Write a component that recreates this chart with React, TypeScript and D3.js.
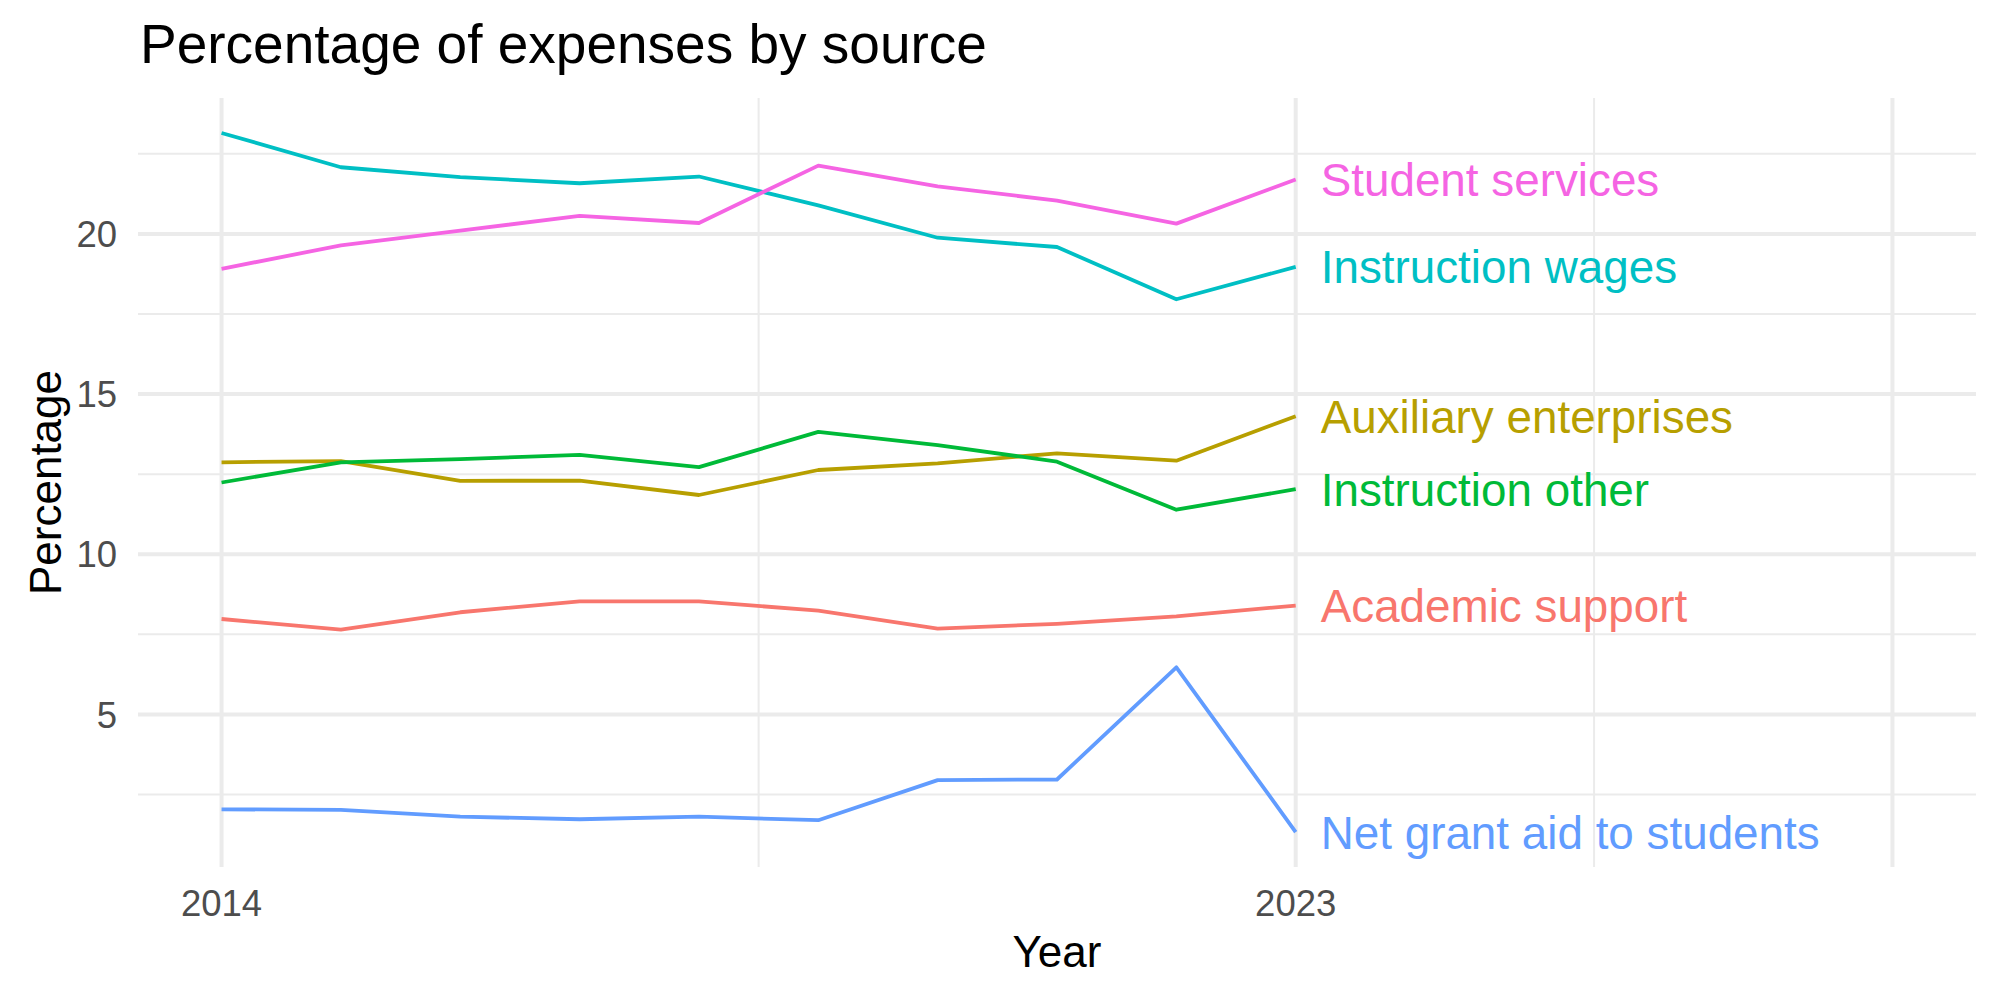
import * as d3 from "d3";

const WIDTH = 2000;
const HEIGHT = 1000;
const PANEL = { left: 138, right: 1976, top: 98, bottom: 867 };

const years = [2014, 2015, 2016, 2017, 2018, 2019, 2020, 2021, 2022, 2023];

const academicSupport = [7.98, 7.65, 8.19, 8.53, 8.53, 8.24, 7.68, 7.83, 8.06, 8.4];
const auxiliaryEnterprises = [12.87, 12.91, 12.29, 12.3, 11.85, 12.63, 12.84, 13.15, 12.92, 14.31];
const instructionOther = [12.24, 12.87, 12.97, 13.1, 12.72, 13.82, 13.41, 12.89, 11.39, 12.03];
const instructionWages = [23.15, 22.08, 21.77, 21.58, 21.79, 20.89, 19.88, 19.59, 17.96, 18.97];
const netGrantAid = [2.04, 2.02, 1.81, 1.73, 1.81, 1.7, 2.95, 2.97, 6.47, 1.33];
const studentServices = [18.91, 19.64, 20.1, 20.56, 20.34, 22.13, 21.48, 21.04, 20.32, 21.7];

const seriesNames = [
  "Academic support",
  "Auxiliary enterprises",
  "Instruction other",
  "Instruction wages",
  "Net grant aid to students",
  "Student services",
];
const seriesValues = [
  academicSupport,
  auxiliaryEnterprises,
  instructionOther,
  instructionWages,
  netGrantAid,
  studentServices,
];
const colors = ["#F8766D", "#B79F00", "#00BA38", "#00BFC4", "#619CFF", "#F564E3"];

const xMajor = [2014, 2023, 2028];
const xLabels = ["2014", "2023", ""];
const xMinor = [2018.5, 2025.5];
const yMajor = [5, 10, 15, 20];
const yMinor = [2.5, 7.5, 12.5, 17.5, 22.5];

const FONT = "'Liberation Sans', Arial, Helvetica, sans-serif";
const GRID = "#EBEBEB";

export default function App() {
  // x runs to 2028 to leave room for the end labels, ggplot-style 5% padding
  const xDomain = [2014, 2028];
  const xPad = (xDomain[1] - xDomain[0]) * 0.05;
  const xScale = d3
    .scaleLinear()
    .domain([xDomain[0] - xPad, xDomain[1] + xPad])
    .range([PANEL.left, PANEL.right]);

  const allValues = seriesValues.flat();
  const yMin = d3.min(allValues) as number;
  const yMax = d3.max(allValues) as number;
  const yPad = (yMax - yMin) * 0.05;
  const yScale = d3
    .scaleLinear()
    .domain([yMin - yPad, yMax + yPad])
    .range([PANEL.bottom, PANEL.top]);

  const line = d3
    .line<number>()
    .x((_, i) => xScale(years[i]))
    .y((d) => yScale(d));

  const lastYear = years[years.length - 1];

  return (
    <svg
      width={WIDTH}
      height={HEIGHT}
      style={{ position: "absolute", left: 0, top: 0, background: "#fff" }}
      fontFamily={FONT}
    >
      {/* minor grid */}
      {yMinor.map((t) => (
        <line key={`ym${t}`} x1={PANEL.left} x2={PANEL.right} y1={yScale(t)} y2={yScale(t)} stroke={GRID} strokeWidth={2} />
      ))}
      {xMinor.map((t) => (
        <line key={`xm${t}`} x1={xScale(t)} x2={xScale(t)} y1={PANEL.top} y2={PANEL.bottom} stroke={GRID} strokeWidth={2} />
      ))}
      {/* major grid */}
      {yMajor.map((t) => (
        <line key={`y${t}`} x1={PANEL.left} x2={PANEL.right} y1={yScale(t)} y2={yScale(t)} stroke={GRID} strokeWidth={4} />
      ))}
      {xMajor.map((t) => (
        <line key={`x${t}`} x1={xScale(t)} x2={xScale(t)} y1={PANEL.top} y2={PANEL.bottom} stroke={GRID} strokeWidth={4} />
      ))}

      {/* series */}
      {seriesValues.map((vals, i) => (
        <path key={seriesNames[i]} d={line(vals) ?? ""} fill="none" stroke={colors[i]} strokeWidth={3.8} strokeLinejoin="round" />
      ))}

      {/* end labels */}
      {seriesValues.map((vals, i) => (
        <text
          key={`lab${i}`}
          x={xScale(lastYear) + 25}
          y={yScale(vals[vals.length - 1])}
          dy="0.36em"
          fontSize={45.8}
          fill={colors[i]}
        >
          {seriesNames[i]}
        </text>
      ))}

      {/* y axis labels */}
      {yMajor.map((t) => (
        <text key={`yl${t}`} x={PANEL.left - 21} y={yScale(t)} dy="0.36em" textAnchor="end" fontSize={36.5} fill="#4D4D4D">
          {t}
        </text>
      ))}
      {/* x axis labels */}
      {xMajor.map((t, i) => (
        <text key={`xl${t}`} x={xScale(t)} y={916} textAnchor="middle" fontSize={36.5} fill="#4D4D4D">
          {xLabels[i]}
        </text>
      ))}

      {/* axis titles */}
      <text x={(PANEL.left + PANEL.right) / 2} y={967} textAnchor="middle" fontSize={44} fill="#000">
        Year
      </text>
      <text
        transform={`translate(61,${(PANEL.top + PANEL.bottom) / 2}) rotate(-90)`}
        textAnchor="middle"
        fontSize={44}
        fill="#000"
      >
        Percentage
      </text>

      {/* title */}
      <text x={140} y={63} fontSize={55} fill="#000">
        Percentage of expenses by source
      </text>
    </svg>
  );
}
